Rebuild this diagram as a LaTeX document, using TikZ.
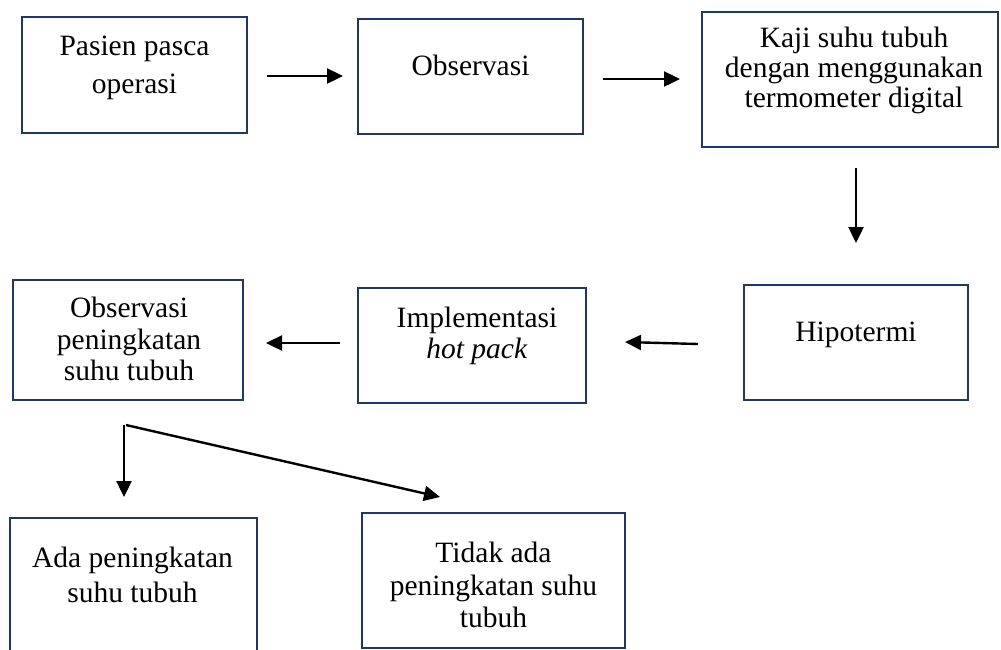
\documentclass[tikz,border=0pt]{standalone}
\usepackage{fontspec}
\setmainfont{Liberation Serif}
\usetikzlibrary{arrows.meta}
\definecolor{boxc}{RGB}{31,56,100}
\begin{document}
\begin{tikzpicture}[x=1pt,y=-1pt,
  box/.style={draw=boxc, line width=2.5pt, rectangle, inner sep=0pt, outer sep=0pt, fill=white},
  txt/.style={align=center, inner sep=0pt, anchor=north, font=\fontsize{29.5}{#1}\selectfont},
  txt/.default=31,
  arr/.style={-{Triangle[length=16pt,width=15pt]}, line width=2.4pt, black}]
\useasboundingbox (0,0) rectangle (1001,649);
\clip (0,0) rectangle (1001,649);
% boxes
\node[box, minimum width=225pt, minimum height=116pt] (b1) at (134.5,75) {};
\node[box, minimum width=225pt, minimum height=115pt] (b2) at (470.5,76.5) {};
\node[box, minimum width=296pt, minimum height=135pt] (b3) at (850,79.5) {};
\node[box, minimum width=224pt, minimum height=115pt] (b4) at (856,342.5) {};
\node[box, minimum width=228pt, minimum height=115pt] (b5) at (472,345.5) {};
\node[box, minimum width=230pt, minimum height=120pt] (b6) at (128,340) {};
\node[box, minimum width=247pt, minimum height=182pt] (b7) at (133.5,609) {};
\node[box, minimum width=263pt, minimum height=135pt] (b8) at (493.5,580.5) {};
% texts
\node[txt=38] (t1) at (134.5,35) {\rule{0pt}{20pt}Pasien pasca\\operasi};
\node[txt] (t2) at (470.5,55) {\rule{0pt}{20pt}Observasi};
\node[txt=30] (t3) at (854,27) {\rule{0pt}{20pt}Kaji suhu tubuh\\dengan menggunakan\\termometer digital};
\node[txt] (t4) at (856,321) {\rule{0pt}{20pt}Hipotermi};
\node[txt=31] (t5) at (477,307) {\rule{0pt}{20pt}Implementasi\\\textit{hot pack}};
\node[txt=31.5] (t6) at (129,297) {\rule{0pt}{20pt}Observasi\\peningkatan\\suhu tubuh};
\node[txt=35] (t7) at (132.5,547) {\rule{0pt}{20pt}Ada peningkatan\\suhu tubuh};
\node[txt=32.5] (t8) at (493.5,542) {\rule{0pt}{20pt}Tidak ada\\peningkatan suhu\\tubuh};
% arrows
\draw[arr] ([shift={(20,59)}]b1.north east) -- ([shift={(-15,57)}]b2.north west);
\draw[arr] ([shift={(20,60)}]b2.north east) -- ([shift={(-22,67)}]b3.north west);
\draw[arr] ([shift={(154,21)}]b3.south west) -- ([shift={(112,-42)}]b4.north west);
\draw[arr] ([shift={(-46,59)}]b4.north west) -- ([shift={(39,54)}]b5.north east);
\draw[arr] ([shift={(-18,55)}]b5.north west) -- ([shift={(23,63)}]b6.north east);
\draw[arr] ([shift={(111,25)}]b6.south west) -- ([shift={(114,-21)}]b7.north west);
\draw[arr] ([shift={(113,25)}]b6.south west) -- ([shift={(78,-16)}]b8.north west);
\end{tikzpicture}
\end{document}
